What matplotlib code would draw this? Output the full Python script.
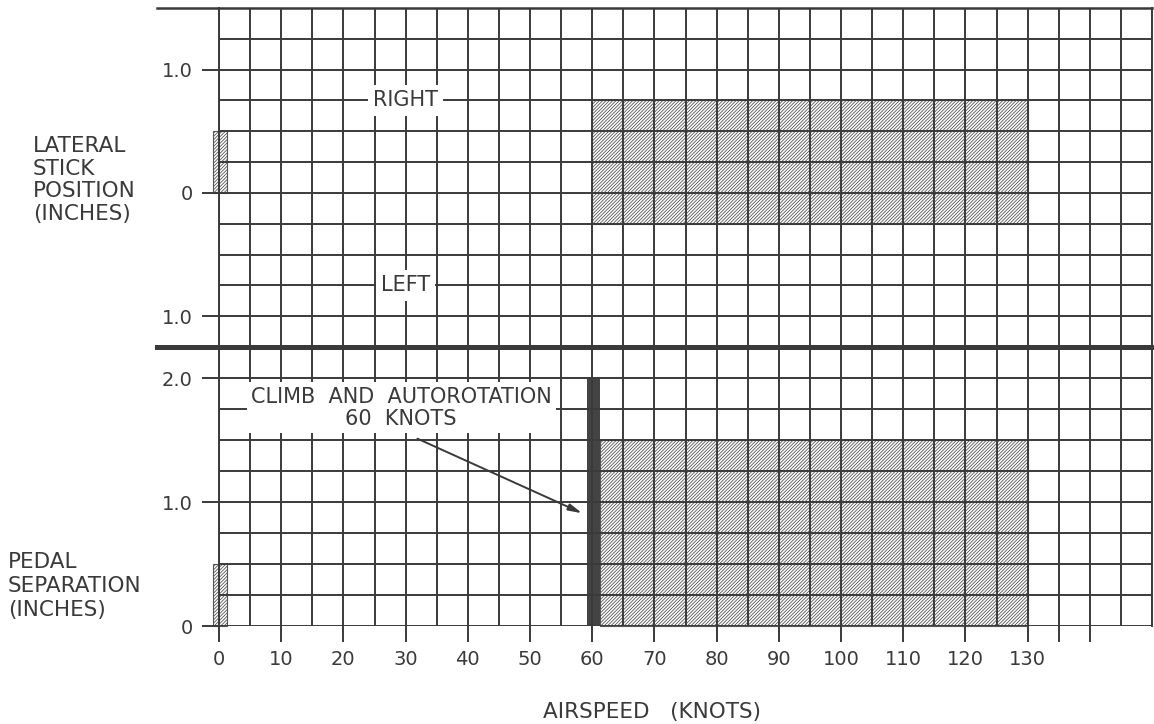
import matplotlib
matplotlib.use("Agg")
import matplotlib.pyplot as plt
from matplotlib.lines import Line2D
from matplotlib.ticker import MultipleLocator

# data
airspeed_ticks = [0, 10, 20, 30, 40, 50, 60, 70, 80, 90, 100, 110, 120, 130, 135, 140]
airspeed_labels = ["0", "10", "20", "30", "40", "50", "60", "70", "80", "90",
                   "100", "110", "120", "130", "", ""]

stick_ticks = [-1.0, 0.0, 1.0]
stick_labels = ["1.0", "0", "1.0"]
pedal_ticks = [0.0, 1.0, 2.0]
pedal_labels = ["0", "1.0", "2.0"]

# hatched bands: (x start, x end, y low, y high)
stick_bands = [(-1.0, 1.3, 0.0, 0.5), (60.0, 130.0, -0.25, 0.75)]
pedal_bands = [(-1.0, 1.3, 0.0, 0.5), (61.2, 130.0, 0.0, 1.5)]
# solid bar marking the 60 knot climb / autorotation speed
climb_bar = (59.2, 61.2, 0.0, 2.0)

ink = "#3a3a3a"
plt.rcParams["font.family"] = ["DejaVu Sans"]
plt.rcParams["hatch.linewidth"] = 0.6
plt.rcParams["hatch.color"] = "#555555"

W, H = 1154, 724
fig = plt.figure(figsize=(W / 100, H / 100), dpi=100)
fig.patch.set_facecolor("white")

left = 219 / W
width = (1152 - 219) / W
split = 1 - 347 / H
ax_top = fig.add_axes([left, split, width, (347 - 8) / H])
ax_bot = fig.add_axes([left, 1 - 626 / H, width, (626 - 347) / H])

for ax in (ax_top, ax_bot):
    ax.set_xlim(0, 150)
    ax.xaxis.set_minor_locator(MultipleLocator(5))
    ax.yaxis.set_minor_locator(MultipleLocator(0.25))
    ax.grid(which="both", color=ink, linewidth=1.4)
    ax.set_axisbelow(False)
    for s in ("top", "bottom"):
        ax.spines[s].set_visible(False)
    for s in ("left", "right"):
        ax.spines[s].set_color(ink)
        ax.spines[s].set_linewidth(1.4)
    ax.tick_params(which="minor", length=0)
    ax.tick_params(axis="y", which="major", direction="out", length=12,
                   width=1.4, color=ink, pad=7, labelsize=14, labelcolor=ink)

ax_top.set_ylim(-1.25, 1.5)
ax_top.set_yticks(stick_ticks)
ax_top.set_yticklabels(stick_labels)
ax_top.set_xticks(airspeed_ticks)
ax_top.tick_params(axis="x", which="major", length=0, labelbottom=False)

ax_bot.set_ylim(0, 2.25)
ax_bot.set_yticks(pedal_ticks)
ax_bot.set_yticklabels(pedal_labels)
ax_bot.set_xticks(airspeed_ticks)
ax_bot.set_xticklabels(airspeed_labels)
ax_bot.tick_params(axis="x", which="major", direction="out", length=11.5,
                   width=1.4, color=ink, pad=6, labelsize=14, labelcolor=ink)


def hatched(ax, bands):
    for x0, x1, y0, y1 in bands:
        bars = ax.bar(x0, y1 - y0, width=x1 - x0, bottom=y0, align="edge",
                      facecolor="white", edgecolor="#555555", linewidth=0.8,
                      hatch="/" * 10, zorder=1)
        for b in bars:
            b.set_clip_on(False)


hatched(ax_top, stick_bands)
hatched(ax_bot, pedal_bands)
bx0, bx1, by0, by1 = climb_bar
ax_bot.bar(bx0, by1 - by0, width=bx1 - bx0, bottom=by0, align="edge",
           color="#444444", linewidth=0, zorder=1)

box = dict(boxstyle="square,pad=0.25", facecolor="white", edgecolor="none")
ax_top.text(30, 0.75, "RIGHT", ha="center", va="center", fontsize=15,
            color=ink, bbox=box, zorder=4)
ax_top.text(30, -0.75, "LEFT", ha="center", va="center", fontsize=15,
            color=ink, bbox=box, zorder=4)
ax_bot.text(29.3, 1.76, "CLIMB  AND  AUTOROTATION\n60  KNOTS", ha="center",
            va="center", fontsize=15, color=ink, linespacing=1.15,
            bbox=dict(boxstyle="square,pad=0.2", facecolor="white",
                      edgecolor="none"), zorder=4)
ax_bot.annotate("", xy=(58.8, 0.90), xytext=(31.5, 1.52),
                arrowprops=dict(arrowstyle="-|>,head_length=0.8,head_width=0.2",
                                color=ink, lw=1.4), zorder=5)

# top border and thick separator, both running out past the left edge
fig.add_artist(Line2D([157 / W, 1152 / W], [1 - 8 / H] * 2, color=ink, lw=1.8))
fig.add_artist(Line2D([157 / W, 1.0], [split] * 2, color=ink, lw=3.6))

fig.text(33 / W, 1 - 136 / H, "LATERAL\nSTICK\nPOSITION\n(INCHES)",
         ha="left", va="top", fontsize=15.5, color=ink, linespacing=1.17)
fig.text(8 / W, 1 - 552 / H, "PEDAL\nSEPARATION\n(INCHES)",
         ha="left", va="top", fontsize=15.5, color=ink, linespacing=1.25)
fig.text(652 / W, 1 - 712 / H, "AIRSPEED   (KNOTS)", ha="center", va="center",
         fontsize=15.5, color=ink)

fig.savefig("out.png", dpi=100, facecolor="white")
